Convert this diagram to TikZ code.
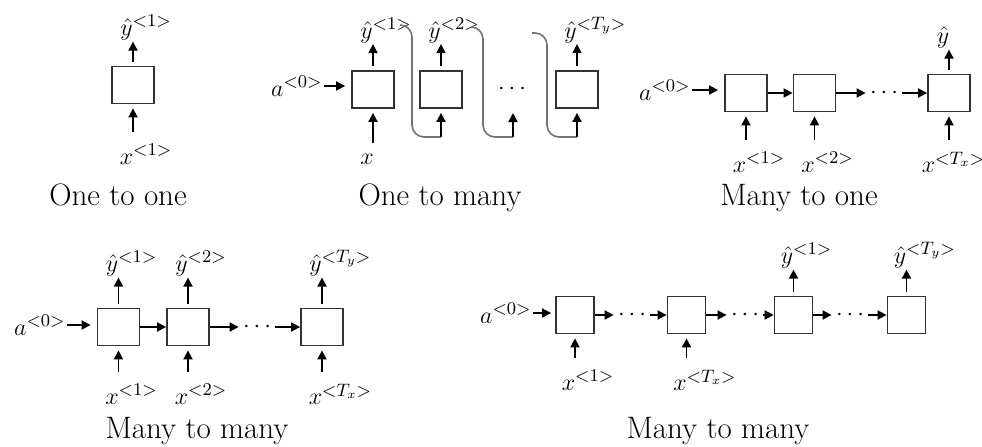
\documentclass[tikz,border=0pt]{standalone}
\usetikzlibrary{arrows.meta,positioning}
\newcommand{\tlab}[2]{#1^{\rlap{$\scriptstyle#2$}}}
\tikzset{
  cell/.style={draw=black!80, line width=0.9pt, minimum width=21pt, minimum height=18.5pt, inner sep=0pt},
  lbl/.style={font=\fontsize{13}{15}\selectfont, inner sep=0.5pt},
  outlbl/.style={lbl, xshift=-3pt},
  inlbl/.style={lbl, xshift=-3pt},
  ellip/.style={lbl, inner sep=2pt},
  paneltitle/.style={font=\fontsize{15.5}{18}\selectfont, anchor=base, inner sep=0pt},
  flow/.style={-{Triangle[length=4.5pt,width=4.5pt]}, line width=0.9pt},
  feed/.style={draw=black!55, line width=0.8pt, rounded corners=6pt}
}
\begin{document}
\begin{tikzpicture}[x=0.5pt, y=-0.5pt]
  \useasboundingbox (0,0) rectangle (982,446);
  % one to one
  \node[cell] (oo) at (133,85) {};
  \node[outlbl, above=12pt of oo] (ooy) {$\tlab{\hat{y}}{<1>}$};
  \node[inlbl, below=19pt of oo] (oox) {$\tlab{x}{<1>}$};
  \draw[flow, shorten <=2pt] (oo.north) -- (oo.north |- ooy.south);
  \draw[flow, shorten <=5pt, shorten >=2pt] (oox.north -| oo.south) -- (oo.south);
  \node[paneltitle] (ootitle) at (118,205) {One to one};

  % one to many
  \node[lbl, anchor=east] (oma) at (324,86) {$a^{<0>}$};
  \node[cell] (om1) at (373,89.5) {};
  \node[cell] (om2) at (441,89.5) {};
  \node[ellip] (omd) at (512,89.5) {$\cdots$};
  \node[cell] (om3) at (577,89.5) {};
  \node[outlbl, above=13pt of om1] (omy1) {$\tlab{\hat{y}}{<1>}$};
  \node[outlbl, above=13pt of om2] (omy2) {$\tlab{\hat{y}}{<2>}$};
  \node[outlbl, above=13pt of om3] (omy3) {$\tlab{\hat{y}}{<T_y>}$};
  \node[inlbl, below=22pt of om1] (omx1) {$x$};
  \coordinate (omf1) at (441,137);
  \coordinate (omf2) at (513,137);
  \coordinate (omf2t) at (513,113);
  \coordinate (omf3) at (577,137);
  \draw[flow, shorten >=3pt] (oma.east) -- (oma.east -| om1.west);
  \draw[flow, shorten <=2pt] (om1.north) -- (om1.north |- omy1.south);
  \draw[flow, shorten <=2pt] (om2.north) -- (om2.north |- omy2.south);
  \draw[flow, shorten <=2pt] (om3.north) -- (om3.north |- omy3.south);
  \draw[flow, shorten <=5pt, shorten >=2pt] (omx1.north -| om1.south) -- (om1.south);
  \draw[feed] (400,25) -- (412,25) -- (412,137) -- (omf1);
  \draw[feed] (472,27) -- (483,27) -- (483,137) -- (omf2);
  \draw[feed] (532,33) -- (547,33) -- (547,137) -- (omf3);
  \draw[flow, shorten >=2pt] (omf1) -- (om2.south);
  \draw[flow] (omf2) -- (omf2t);
  \draw[flow, shorten >=2pt] (omf3) -- (om3.south);
  \node[paneltitle] (omtitle) at (440,205) {One to many};

  % many to one
  \node[lbl, anchor=east] (moa) at (692,90) {$a^{<0>}$};
  \node[cell] (mo1) at (746,93) {};
  \node[cell] (mo2) at (814.5,93) {};
  \node[ellip] (mod) at (884,93) {$\cdots$};
  \node[cell] (mo3) at (949,93) {};
  \node[outlbl, above=12pt of mo3] (moy) {$\hat{y}$};
  \node[inlbl, below=19pt of mo1] (mox1) {$\tlab{x}{<1>}$};
  \node[inlbl, below=19pt of mo2] (mox2) {$\tlab{x}{<2>}$};
  \node[inlbl, below=19pt of mo3, xshift=-7pt] (mox3) {$\tlab{x}{<T_x>}$};
  \draw[flow, shorten >=3pt] (moa.east) -- (moa.east -| mo1.west);
  \draw[flow] (mo1) -- (mo2);
  \draw[flow] (mo2) -- (mod);
  \draw[flow] (mod) -- (mo3);
  \draw[flow, shorten <=2pt] (mo3.north) -- (mo3.north |- moy.south);
  \draw[flow, shorten <=5pt, shorten >=2pt] (mox1.north -| mo1.south) -- (mo1.south);
  \draw[flow, shorten <=5pt, shorten >=2pt] (mox2.north -| mo2.south) -- (mo2.south);
  \draw[flow, shorten <=5pt, shorten >=2pt] (mox3.north -| mo3.south) -- (mo3.south);
  \node[paneltitle] (motitle) at (799,205) {Many to one};

  % many to many, same length
  \node[lbl, anchor=east] (mma) at (67,325) {$a^{<0>}$};
  \node[cell] (mm1) at (118.5,327) {};
  \node[cell] (mm2) at (188,327) {};
  \node[ellip] (mmd) at (257,327) {$\cdots$};
  \node[cell] (mm3) at (322,327) {};
  \node[outlbl, above=15pt of mm1] (mmy1) {$\tlab{\hat{y}}{<1>}$};
  \node[outlbl, above=15pt of mm2] (mmy2) {$\tlab{\hat{y}}{<2>}$};
  \node[outlbl, above=15pt of mm3] (mmy3) {$\tlab{\hat{y}}{<T_y>}$};
  \node[inlbl, below=18pt of mm1] (mmx1) {$\tlab{x}{<1>}$};
  \node[inlbl, below=18pt of mm2] (mmx2) {$\tlab{x}{<2>}$};
  \node[inlbl, below=18pt of mm3] (mmx3) {$\tlab{x}{<T_x>}$};
  \draw[flow, shorten >=3pt] (mma.east) -- (mma.east -| mm1.west);
  \draw[flow] (mm1) -- (mm2);
  \draw[flow] (mm2) -- (mmd);
  \draw[flow] (mmd) -- (mm3);
  \draw[flow, shorten <=2pt] (mm1.north) -- (mm1.north |- mmy1.south);
  \draw[flow, shorten <=2pt] (mm2.north) -- (mm2.north |- mmy2.south);
  \draw[flow, shorten <=2pt] (mm3.north) -- (mm3.north |- mmy3.south);
  \draw[flow, shorten <=5pt, shorten >=2pt] (mmx1.north -| mm1.south) -- (mm1.south);
  \draw[flow, shorten <=5pt, shorten >=2pt] (mmx2.north -| mm2.south) -- (mm2.south);
  \draw[flow, shorten <=5pt, shorten >=2pt] (mmx3.north -| mm3.south) -- (mm3.south);
  \node[paneltitle] (mmtitle) at (197,438) {Many to many};

  % many to many, encoder then decoder
  \node[lbl, anchor=east] (mna) at (533,313) {$a^{<0>}$};
  \node[cell, minimum width=19pt] (mn1) at (575,315) {};
  \node[ellip] (mnd1) at (632,315) {$\cdots$};
  \node[cell, minimum width=19pt] (mn2) at (686.5,315) {};
  \node[ellip] (mnd2) at (745,315) {$\cdots$};
  \node[cell, minimum width=19pt] (mn3) at (793.5,315) {};
  \node[ellip] (mnd3) at (850,315) {$\cdots$};
  \node[cell, minimum width=19pt] (mn4) at (906.5,315) {};
  \node[outlbl, above=13pt of mn3] (mny1) {$\tlab{\hat{y}}{<1>}$};
  \node[outlbl, above=13pt of mn4] (mny2) {$\tlab{\hat{y}}{<T_y>}$};
  \node[inlbl, below=17pt of mn1] (mnx1) {$\tlab{x}{<1>}$};
  \node[inlbl, below=17pt of mn2] (mnx2) {$\tlab{x}{<T_x>}$};
  \draw[flow, shorten >=2pt] (mna.east) -- (mna.east -| mn1.west);
  \draw[flow] (mn1) -- (mnd1);
  \draw[flow] (mnd1) -- (mn2);
  \draw[flow] (mn2) -- (mnd2);
  \draw[flow] (mnd2) -- (mn3);
  \draw[flow] (mn3) -- (mnd3);
  \draw[flow] (mnd3) -- (mn4);
  \draw[flow, shorten <=2pt] (mn3.north) -- (mn3.north |- mny1.south);
  \draw[flow, shorten <=2pt] (mn4.north) -- (mn4.north |- mny2.south);
  \draw[flow, shorten <=5pt, shorten >=2pt] (mnx1.north -| mn1.south) -- (mn1.south);
  \draw[flow, shorten <=5pt, shorten >=2pt] (mnx2.north -| mn2.south) -- (mn2.south);
  \node[paneltitle] (mntitle) at (718,438) {Many to many};
\end{tikzpicture}
\end{document}
